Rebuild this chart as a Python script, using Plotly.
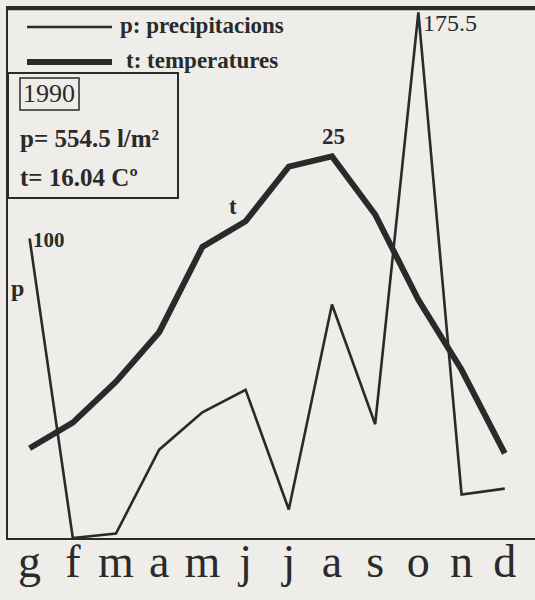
import plotly.graph_objects as go

months = ["g", "f", "m", "a", "m", "j", "j", "a", "s", "o", "n", "d"]
precip = [100, 0, 1.5, 29.5, 42, 49.5, 9.5, 78, 38, 175.5, 14.5, 16.5]
temps = [7.9, 9.4, 11.8, 14.7, 19.7, 21.2, 24.4, 25.0, 21.6, 16.6, 12.5, 7.6]
year_label = "1990"
p_total = "p= 554.5 l/m²"
t_mean = "t= 16.04 Cº"

W, H = 535, 600
L, R, T, B = 8, 0, 8, 62
PW, PH = W - L - R, H - T - B
INK = "#2a2a2a"
BG = "#eeede9"
FONT = "Liberation Serif"

def px(x):
    return (x - L) / PW

def py(y):
    return (H - B - y) / PH

xs = list(range(len(months)))

fig = go.Figure()
fig.add_trace(go.Scatter(x=xs, y=precip, mode="lines", line=dict(color=INK, width=2.6),
                         name="p: precipitacions", yaxis="y", cliponaxis=False))
fig.add_trace(go.Scatter(x=xs, y=temps, mode="lines", line=dict(color=INK, width=6),
                         name="t: temperatures", yaxis="y2", cliponaxis=False))

shapes = [
    # top frame line
    dict(type="line", xref="paper", yref="paper", x0=px(7), x1=px(535), y0=py(9), y1=py(9),
         line=dict(color=INK, width=2.4), layer="above"),
    dict(type="line", xref="paper", yref="paper", x0=px(27), x1=px(112), y0=py(27), y1=py(27),
         line=dict(color=INK, width=2.6)),
    dict(type="line", xref="paper", yref="paper", x0=px(27), x1=px(112), y0=py(62), y1=py(62),
         line=dict(color=INK, width=6)),
    dict(type="rect", xref="paper", yref="paper", x0=px(8), x1=px(178), y0=py(198), y1=py(73),
         line=dict(color=INK, width=2), fillcolor=BG),
    dict(type="rect", xref="paper", yref="paper", x0=px(20), x1=px(79), y0=py(110), y1=py(78),
         line=dict(color=INK, width=1.5)),
]

def ann(text, x, y, size, xanchor="left", bold=True):
    return dict(text=("<b>%s</b>" % text) if bold else text, xref="paper", yref="paper",
                x=px(x), y=py(y), xanchor=xanchor, yanchor="middle", showarrow=False,
                font=dict(family=FONT, size=size, color=INK))

annotations = [
    ann("p: precipitacions", 118, 26, 23),
    ann("t: temperatures", 124, 61, 23),
    ann(year_label, 49, 94, 26, xanchor="center", bold=False),
    ann(p_total, 18, 139, 25),
    ann(t_mean, 18, 177, 25),
    ann("p", 17, 288, 24, xanchor="center", bold=True),
    dict(text="<b>t</b>", x=5, y=temps[5], xref="x", yref="y2", xanchor="center", yanchor="middle",
         xshift=-13, yshift=15, showarrow=False, font=dict(family=FONT, size=23, color=INK)),
    dict(text="<b>100</b>", x=0, y=precip[0], xref="x", yref="y", xanchor="left", yanchor="middle",
         xshift=1, yshift=-1, showarrow=False, font=dict(family=FONT, size=21, color=INK)),
    dict(text="<b>25</b>", x=7, y=temps[7], xref="x", yref="y2", xanchor="center", yanchor="bottom",
         xshift=2, yshift=5, showarrow=False, font=dict(family=FONT, size=23, color=INK)),
    dict(text="175.5", x=9, y=precip[9], xref="x", yref="y", xanchor="left", yanchor="top",
         xshift=3, yshift=4, showarrow=False, font=dict(family=FONT, size=24, color=INK)),
]

fig.update_layout(
    width=W, height=H,
    margin=dict(l=L, r=R, t=T, b=B, pad=0),
    paper_bgcolor=BG, plot_bgcolor=BG,
    showlegend=False,
    xaxis=dict(range=[-0.5, 11.7], tickvals=xs, ticktext=months, showgrid=False, zeroline=False,
               showline=True, linecolor=INK, linewidth=2.2, mirror="all", ticks="",
               tickfont=dict(family=FONT, size=46, color=INK), ticklabelstandoff=-18,
               automargin=False),
    yaxis=dict(range=[0, 177], showgrid=False, zeroline=False, showticklabels=False,
               showline=True, linecolor=INK, linewidth=2.2, ticks="", automargin=False),
    yaxis2=dict(range=[2.64, 33.7], overlaying="y", showgrid=False, zeroline=False,
                showticklabels=False, showline=False, ticks="", automargin=False),
    shapes=shapes,
    annotations=annotations,
)

fig.write_html(
    "out.html",
    config={"displayModeBar": False},
    post_script="document.body.style.margin='0';document.body.style.background='%s';"
                "document.documentElement.style.overflow='hidden';" % BG,
)
